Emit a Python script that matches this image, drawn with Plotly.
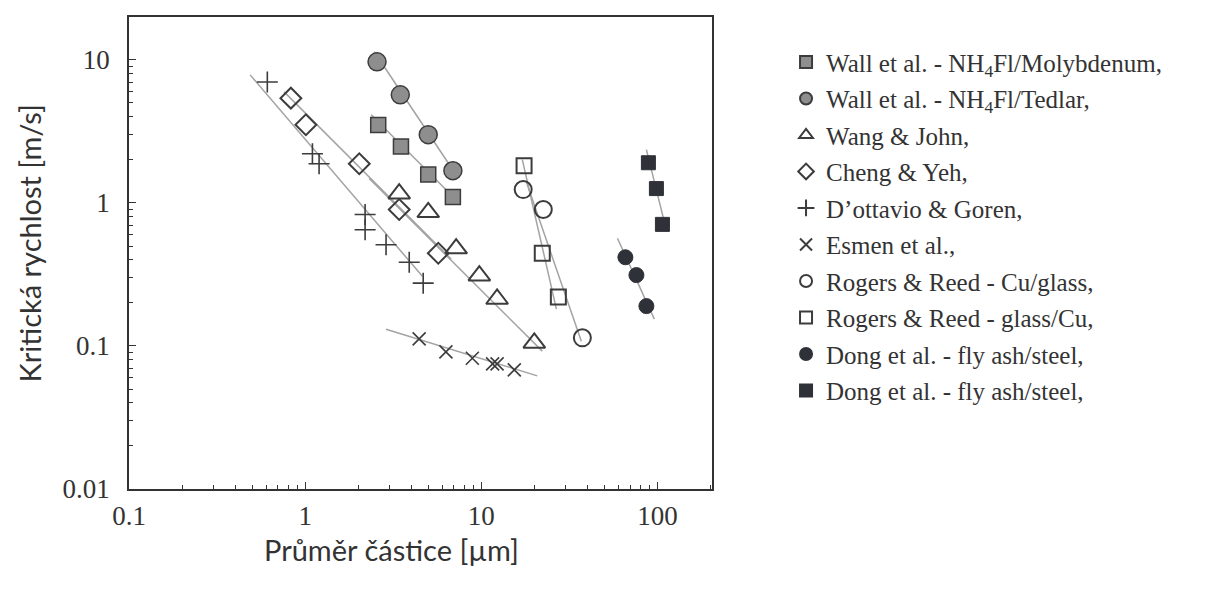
import plotly.graph_objects as go

# particle diameter [um] and critical velocity [m/s]
wall_mo_x = [2.6, 3.5, 5.0, 6.9]
wall_mo_y = [3.5, 2.48, 1.58, 1.1]
wall_mo_fit_x = [2.37, 7.1]
wall_mo_fit_y = [4.14, 1.07]

wall_ted_x = [2.56, 3.47, 5.0, 6.9]
wall_ted_y = [9.7, 5.7, 3.0, 1.68]
wall_ted_fit_x = [2.47, 7.3]
wall_ted_fit_y = [11.4, 1.53]

wang_x = [3.42, 5.0, 7.2, 9.75, 12.3, 20.0]
wang_y = [1.16, 0.86, 0.48, 0.31, 0.213, 0.105]
wang_fit_x = [2.31, 22.2]
wang_fit_y = [1.48, 0.092]

cheng_x = [0.83, 1.01, 2.03, 3.42, 5.7]
cheng_y = [5.4, 3.52, 1.88, 0.9, 0.445]
cheng_fit_x = [0.76, 6.76]
cheng_fit_y = [5.98, 0.404]

dott_x = [0.61, 1.10, 1.20, 2.19, 2.19, 2.88, 3.9, 4.68]
dott_y = [7.0, 2.21, 1.88, 0.83, 0.65, 0.51, 0.385, 0.275]
dott_fit_x = [0.487, 4.62]
dott_fit_y = [7.86, 0.308]

esmen_x = [4.44, 6.3, 8.9, 11.6, 12.3, 15.4]
esmen_y = [0.112, 0.091, 0.082, 0.075, 0.075, 0.068]
esmen_fit_x = [2.88, 20.8]
esmen_fit_y = [0.131, 0.0618]

rog_cu_x = [17.3, 22.5, 37.5]
rog_cu_y = [1.24, 0.90, 0.114]
rog_cu_fit_x = [18.0, 37.0]
rog_cu_fit_y = [1.41, 0.108]

rog_gl_x = [17.5, 22.2, 27.4]
rog_gl_y = [1.82, 0.445, 0.22]
rog_gl_fit_x = [17.1, 26.7]
rog_gl_fit_y = [2.01, 0.181]

dong_c_x = [65.8, 76.0, 86.6]
dong_c_y = [0.417, 0.313, 0.19]
dong_c_fit_x = [59.3, 96.1]
dong_c_fit_y = [0.566, 0.154]

dong_s_x = [88.9, 98.7, 106.8]
dong_s_y = [1.91, 1.26, 0.708]
dong_s_fit_x = [86.6, 112.5]
dong_s_fit_y = [2.36, 0.643]

x_ticks = [0.1, 1, 10, 100]
y_ticks = [0.01, 0.1, 1, 10]

GRAY = "#8e8e8e"
DARK = "#2f3138"
EDGE = "#3c3c3c"
LINE = "#a3a3a3"
AXIS = "#333333"

series = [
    ("Wall et al. - NH<sub>4</sub>Fl/Molybdenum,", wall_mo_x, wall_mo_y, wall_mo_fit_x, wall_mo_fit_y,
     dict(symbol="square", size=15, color=GRAY, line=dict(color=EDGE, width=1.5))),
    ("Wall et al. - NH<sub>4</sub>Fl/Tedlar,", wall_ted_x, wall_ted_y, wall_ted_fit_x, wall_ted_fit_y,
     dict(symbol="circle", size=18, color=GRAY, line=dict(color=EDGE, width=1.5))),
    ("Wang &amp; John,", wang_x, wang_y, wang_fit_x, wang_fit_y,
     dict(symbol="triangle-up-open", size=19, color=EDGE, line=dict(color=EDGE, width=2))),
    ("Cheng &amp; Yeh,", cheng_x, cheng_y, cheng_fit_x, cheng_fit_y,
     dict(symbol="diamond-open", size=16, color=EDGE, line=dict(color=EDGE, width=2))),
    ("D’ottavio &amp; Goren,", dott_x, dott_y, dott_fit_x, dott_fit_y,
     dict(symbol="cross-thin-open", size=15, color=EDGE, line=dict(color=EDGE, width=1.6))),
    ("Esmen et al.,", esmen_x, esmen_y, esmen_fit_x, esmen_fit_y,
     dict(symbol="x-thin-open", size=13, color=EDGE, line=dict(color=EDGE, width=1.6))),
    ("Rogers &amp; Reed - Cu/glass,", rog_cu_x, rog_cu_y, rog_cu_fit_x, rog_cu_fit_y,
     dict(symbol="circle-open", size=17, color=EDGE, line=dict(color=EDGE, width=2))),
    ("Rogers &amp; Reed - glass/Cu,", rog_gl_x, rog_gl_y, rog_gl_fit_x, rog_gl_fit_y,
     dict(symbol="square-open", size=15, color=EDGE, line=dict(color=EDGE, width=2))),
    ("Dong et al. - fly ash/steel,", dong_c_x, dong_c_y, dong_c_fit_x, dong_c_fit_y,
     dict(symbol="circle", size=15, color=DARK, line=dict(color=DARK, width=1))),
    ("Dong et al. - fly ash/steel,", dong_s_x, dong_s_y, dong_s_fit_x, dong_s_fit_y,
     dict(symbol="square", size=14, color=DARK, line=dict(color=DARK, width=1))),
]

fig = go.Figure()

# fit lines first so markers sit on top
for i, (name, x, y, fx, fy, marker) in enumerate(series):
    fig.add_trace(go.Scatter(
        x=fx, y=fy, mode="lines", line=dict(color=LINE, width=1.5),
        showlegend=False, hoverinfo="skip", legendgroup=f"g{i}",
    ))

for i, (name, x, y, fx, fy, marker) in enumerate(series):
    fig.add_trace(go.Scatter(
        x=x, y=y, mode="markers", name=name, marker=marker, legendgroup=f"g{i}",
    ))


def minor_vals(decades):
    return [m * d for d in decades for m in range(2, 10)]


axis_common = dict(
    type="log",
    showgrid=False,
    zeroline=False,
    showline=True,
    linecolor=AXIS,
    linewidth=1.5,
    mirror=True,
    ticks="inside",
    ticklen=7,
    tickwidth=1.2,
    tickcolor=AXIS,
    tickfont=dict(family="Liberation Serif", size=27, color=AXIS),
)

fig.update_xaxes(
    range=[-1, 2.31],
    tickvals=x_ticks,
    ticktext=["0.1", "1", "10", "100"],
    ticklabelstandoff=2,
    minor=dict(tickvals=minor_vals([0.1, 1, 10, 100]), ticks="inside", ticklen=4,
               tickcolor=AXIS, showgrid=False),
    **axis_common,
)
fig.update_yaxes(
    range=[-2, 1.30],
    tickvals=y_ticks,
    ticktext=["0.01", "0.1", "1", "10"],
    ticklabelstandoff=12,
    minor=dict(tickvals=minor_vals([0.01, 0.1, 1, 10]), ticks="inside", ticklen=4,
               tickcolor=AXIS, showgrid=False),
    **axis_common,
)

fig.update_layout(
    width=1203,
    height=582,
    margin=dict(l=121, r=499, t=7, b=101),
    plot_bgcolor="white",
    paper_bgcolor="white",
    legend=dict(
        x=1.127, y=0.953, xanchor="left", yanchor="top",
        font=dict(family="Liberation Serif", size=25, color=AXIS),
        itemsizing="constant",
        tracegroupgap=1,
        bgcolor="rgba(0,0,0,0)",
    ),
    annotations=[
        dict(text="Kritická rychlost [m/s]", x=-0.17, y=0.52, xref="paper", yref="paper",
             xanchor="center", yanchor="middle", textangle=-90, showarrow=False,
             font=dict(family="Lato", size=29, color=AXIS)),
        dict(text="Průměr částice [µm]", x=0.451, y=-0.129, xref="paper", yref="paper",
             xanchor="center", yanchor="middle", showarrow=False,
             font=dict(family="Lato", size=29, color=AXIS)),
    ],
)

fig.write_html("out.html")
